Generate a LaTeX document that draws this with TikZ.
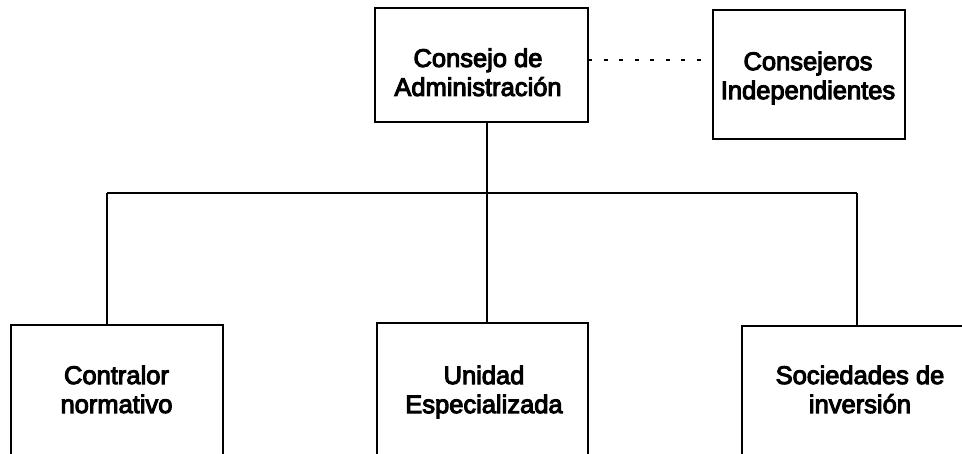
\documentclass[tikz,border=0pt]{standalone}
\usepackage{fontspec}
\setmainfont{Liberation Sans}
\newfontfamily\boxfont{Liberation Sans}[FakeBold=4]
\begin{document}
\begin{tikzpicture}[x=1pt,y=-1pt,
  box/.style={draw, line width=2pt, inner sep=0pt, outer sep=0pt},
  txt/.style={align=center, inner sep=0pt, font=\boxfont\fontsize{25.5}{29}\selectfont},
  link/.style={line width=2.5pt},
  dotline/.style={line width=2.2pt, dash pattern=on 4pt off 11.5pt}]
\useasboundingbox (0,0) rectangle (962,453);
\clip (0,0) rectangle (962,453);
% boxes
\node[box, minimum width=213pt, minimum height=114pt] (ca) at (481.5,65) {};
\node[txt] (cat) at (478,72.3) {Consejo de\\Administración};
\node[box, line width=2.5pt, minimum width=192pt, minimum height=129pt] (ci) at (809,74.5) {};
\node[txt] (cit) at (808,78) {Consejeros\\Independientes};
\node[box, minimum width=212pt, minimum height=160pt] (cn) at (117,405) {};
\node[txt] (cnt) at (116.5,389.4) {Contralor\\normativo};
\node[box, minimum width=211pt, minimum height=160pt] (ue) at (482.5,403) {};
\node[txt] (uet) at (484,392) {Unidad\\Especializada};
\node[box, minimum width=230pt, minimum height=160pt] (si) at (857,406) {};
\node[txt] (sit) at (860,389.4) {Sociedades de\\inversión};
% connectors
\coordinate (bus) at (487,193);
\coordinate (bl) at (107,193);
\coordinate (br) at (857,193);
\draw[link] (bus |- ca.south) -- (bus);
\draw[link] (bl) -- (br);
\draw[link] (bl) -- (bl |- cn.north);
\draw[link] (bus) -- (bus |- ue.north);
\draw[link] (br) -- (si.north);
\draw[dotline] ([yshift=5pt]ca.east) -- ([yshift=5pt]ca.east -| ci.west);
\end{tikzpicture}
\end{document}
